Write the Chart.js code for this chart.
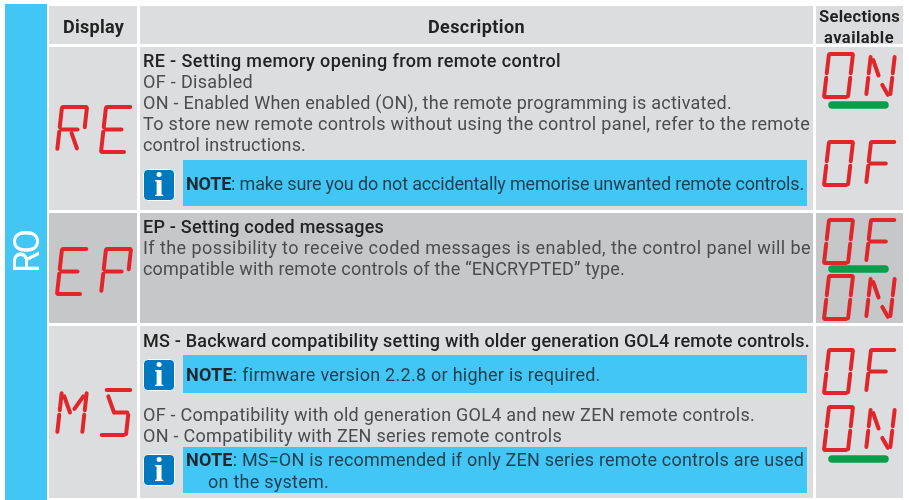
<!DOCTYPE html>
<html>
<head>
<meta charset="utf-8">
<style>
  html, body { margin: 0; padding: 0; background: #fff; }
  canvas { display: block; }
</style>
<script src="https://cdn.jsdelivr.net/npm/chart.js@4/dist/chart.umd.js"></script>
</head>
<body>
<canvas id="tableChart" width="909" height="500"></canvas>
<script>
// table contents
const sideLabel = "RO";
const headers = ["Display", "Description", "Selections", "available"];
const displayCodes = ["RE", "EP", "MS"];
const selectionCodes = [["ON", "OF"], ["OF", "ON"], ["OF", "ON"]];
const titles = [
  "RE - Setting memory opening from remote control",
  "EP - Setting coded messages",
  "MS - Backward compatibility setting with older generation GOL4 remote controls."
];
const bodyLines = [
  "OF - Disabled",
  "ON - Enabled When enabled (ON), the remote programming is activated.",
  "To store new remote controls without using the control panel, refer to the remote",
  "control instructions.",
  "If the possibility to receive coded messages is enabled, the control panel will be",
  "compatible with remote controls of the “ENCRYPTED” type.",
  "OF - Compatibility with old generation GOL4 and new ZEN remote controls.",
  "ON - Compatibility with ZEN series remote controls"
];
const noteLabel = "NOTE";
const noteLines = [
  ": make sure you do not accidentally memorise unwanted remote controls.",
  ": firmware version 2.2.8 or higher is required.",
  ": MS=ON is recommended if only ZEN series remote controls are used"
];
const noteTail = "on the system.";

// layout: [x1, x2, baseline]
const titlePos = [[143, 561, 67], [143, 384, 233], [143, 810, 347]];
const bodyPos = [
  [143, 253, 88], [143, 732, 109], [143, 810, 130], [143, 306, 151],
  [143, 811, 254], [143, 625, 275], [143, 755, 421], [143, 562, 442]
];
const notePos = [[186, 804, 190], [186, 600, 381], [186, 804, 466]];
const noteBoxes = [[183, 160, 624, 46], [183, 355, 624, 38], [183, 447, 624, 46]];
const iconBoxes = [[143, 169], [143, 359], [143, 454]];
const cells = [
  [49, 6, 88, 38, "#dcddde"], [140, 6, 673, 38, "#dcddde"], [816, 6, 87, 38, "#dcddde"],
  [49, 47, 88, 163, "#dcddde"], [140, 47, 673, 163, "#dcddde"], [816, 47, 87, 163, "#dcddde"],
  [49, 213, 88, 110, "#c6c7c9"], [140, 213, 673, 110, "#c6c7c9"], [816, 213, 87, 110, "#c6c7c9"],
  [49, 326, 88, 172, "#dcddde"], [140, 326, 673, 172, "#dcddde"], [816, 326, 87, 172, "#dcddde"]
];

// 16 segment display, unit coords [u1, v1, u2, v2]
const SEG = {
  t: [0.03, 0, 0.97, 0], d: [0.03, 1, 0.92, 1],
  f: [0, 0.02, 0, 0.45], e: [0, 0.55, 0, 0.98],
  b: [1, 0.02, 1, 0.45], c: [1, 0.55, 1, 0.98],
  fn: [0, 0.07, 0, 0.45], en: [0, 0.55, 0, 0.93],
  bn: [1, 0.07, 1, 0.45], cn: [1, 0.55, 1, 0.93],
  g: [0.08, 0.5, 0.72, 0.5], g2: [0.45, 0.5, 0.95, 0.5],
  h: [0.12, 0.14, 0.42, 0.5], i: [0.88, 0.14, 0.58, 0.42],
  j: [0.5, 0.58, 0.78, 0.92], k: [0.62, 0.72, 0.9, 0.95]
};
const GLYPHS = {
  R: ["t", "f", "en", "b", "g", "j"], E: ["t", "f", "e", "g", "d"], P: ["t", "f", "en", "b", "g"],
  M: ["fn", "en", "bn", "cn", "h", "i"], S: ["t", "h", "g2", "c", "d"],
  O: ["t", "f", "e", "b", "c", "d"], N: ["fn", "en", "bn", "cn", "h", "k"], F: ["t", "f", "en", "g"]
};

const RED = "#e1262b";
const GREEN = "#0a9d4a";
const SLANT = 5;

function glyphDatasets(ch, x0, y0, w, h) {
  return GLYPHS[ch].map(name => {
    const s = SEG[name];
    const px = (u, v) => ({ x: x0 + u * (w - SLANT) + (1 - v) * SLANT, y: y0 + v * h });
    return {
      data: [px(s[0], s[1]), px(s[2], s[3])],
      borderColor: RED, borderWidth: 4, borderCapStyle: "round", borderJoinStyle: "round",
      showLine: true, pointRadius: 0, clip: false
    };
  });
}

function codeDatasets(code, xa, xb, w, y0, h) {
  return glyphDatasets(code[0], xa, y0, w, h).concat(glyphDatasets(code[1], xb, y0, w, h));
}

function greenBar(y) {
  return {
    data: [{ x: 832, y: y }, { x: 885, y: y }],
    borderColor: GREEN, borderWidth: 7.5, borderCapStyle: "round",
    showLine: true, pointRadius: 0, clip: false
  };
}

const datasets = [];
const displayY = [107, 249, 390];
displayCodes.forEach((code, i) => {
  datasets.push(...codeDatasets(code, 57, 101, 30, displayY[i], 45));
});
const selectionY = [[54, 142], [220, 276], [350, 407]];
const barY = [105, 269, 459];
selectionCodes.forEach((pair, i) => {
  pair.forEach((code, k) => {
    datasets.push(...codeDatasets(code, 824, 866, 29, selectionY[i][k], 43));
  });
  datasets.push(greenBar(barY[i]));
});

// draws a run of [text, font, colour] fitted to x1..x2
function fitText(ctx, runs, x1, x2, y) {
  ctx.letterSpacing = "0px";
  let natural = 0, count = 0;
  runs.forEach(r => { ctx.font = r[1]; natural += ctx.measureText(r[0]).width; count += r[0].length; });
  const gap = (x2 - x1 - natural) / count;
  ctx.letterSpacing = gap.toFixed(3) + "px";
  let x = x1;
  runs.forEach(r => {
    ctx.font = r[1];
    ctx.fillStyle = r[2];
    ctx.fillText(r[0], x, y);
    x += ctx.measureText(r[0]).width;
  });
  ctx.letterSpacing = "0px";
}

const FONT = "Roboto, sans-serif";
const tablePlugin = {
  id: "tablePlugin",
  beforeDatasetsDraw(chart) {
    const ctx = chart.ctx;
    ctx.save();
    ctx.fillStyle = "#42c6f6";
    ctx.fillRect(5, 4, 42, 496);
    cells.forEach(c => {
      ctx.fillStyle = c[4];
      ctx.fillRect(c[0], c[1], c[2], c[3]);
    });
    noteBoxes.forEach(b => {
      ctx.fillStyle = "#42c6f6";
      ctx.fillRect(b[0], b[1], b[2], b[3]);
    });
    ctx.restore();
  },
  afterDatasetsDraw(chart) {
    const ctx = chart.ctx;
    ctx.save();
    ctx.textBaseline = "alphabetic";
    ctx.textAlign = "left";

    // side band
    ctx.save();
    ctx.translate(39, 273);
    ctx.rotate(-Math.PI / 2);
    fitText(ctx, [[sideLabel, "400 36px " + FONT, "#fff"]], 0, 41, 0);
    ctx.restore();

    const bold = "700 18px " + FONT;
    fitText(ctx, [[headers[0], bold, "#222"]], 63, 124, 33);
    fitText(ctx, [[headers[1], bold, "#222"]], 428, 525, 33);
    fitText(ctx, [[headers[2], "700 16.5px " + FONT, "#222"]], 819, 900, 22);
    fitText(ctx, [[headers[3], "700 16.5px " + FONT, "#222"]], 824, 894, 43);

    titles.forEach((t, i) => {
      const p = titlePos[i];
      fitText(ctx, [[t, "500 18px " + FONT, "#232323"]], p[0], p[1], p[2]);
    });
    bodyLines.forEach((t, i) => {
      const p = bodyPos[i];
      fitText(ctx, [[t, "400 18px " + FONT, "#4c4c4c"]], p[0], p[1], p[2]);
    });
    noteLines.forEach((t, i) => {
      const p = notePos[i];
      fitText(ctx, [
        [noteLabel, "700 18px " + FONT, "#1d2830"],
        [t, "400 18px " + FONT, "#1f3e4e"]
      ], p[0], p[1], p[2]);
    });
    fitText(ctx, [[noteTail, "400 18px " + FONT, "#1f3e4e"]], 208, 329, 488);

    // info icons
    iconBoxes.forEach(b => {
      ctx.beginPath();
      ctx.roundRect(b[0] + 0.5, b[1] + 0.5, 31, 31, 4);
      ctx.fillStyle = "#0078bf";
      ctx.fill();
      ctx.strokeStyle = "#fff";
      ctx.lineWidth = 1;
      ctx.stroke();
      ctx.fillStyle = "#fff";
      ctx.font = "700 34px 'Liberation Serif', serif";
      ctx.textAlign = "center";
      ctx.fillText("i", b[0] + 16, b[1] + 27);
      ctx.textAlign = "left";
    });
    ctx.restore();
  }
};

new Chart(document.getElementById("tableChart"), {
  type: "scatter",
  data: { datasets: datasets },
  options: {
    responsive: false,
    animation: false,
    events: [],
    layout: { padding: 0 },
    scales: {
      x: { type: "linear", min: 0, max: 909, display: false },
      y: { type: "linear", min: 0, max: 500, reverse: true, display: false }
    },
    plugins: { legend: { display: false }, tooltip: { enabled: false } }
  },
  plugins: [tablePlugin]
});
</script>
</body>
</html>
